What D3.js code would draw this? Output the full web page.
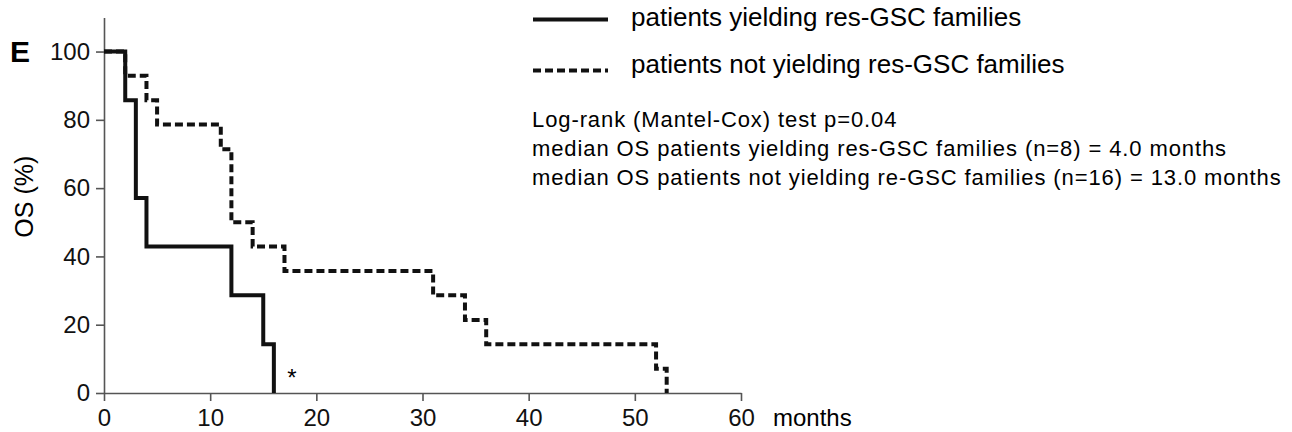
<!DOCTYPE html>
<html>
<head>
<meta charset="utf-8">
<script src="https://cdn.jsdelivr.net/npm/d3@7"></script>
<style>
  body { margin: 0; background: #fff; }
  svg { display: block; font-family: "Liberation Sans", Arial, sans-serif; }
  .axis path, .axis line { stroke: #555; stroke-width: 1.6px; }
  .axis text { font-size: 24px; fill: #111; }
  .km { fill: none; stroke: #111; stroke-width: 4px; stroke-linejoin: miter; }
  .dashed { stroke-dasharray: 8,4; }
</style>
</head>
<body>
<div class="container"></div>
<script>
const WIDTH = 1292;
const HEIGHT = 432;

// survival steps (month, % alive)
var monthsYield = [0, 2, 3, 4, 12, 15, 16];
var osYield = [100, 85.7, 57.1, 42.9, 28.6, 14.3, 0];

var monthsNotYield = [0, 2, 4, 5, 11, 12, 14, 17, 31, 34, 36, 52, 53];
var osNotYield = [100, 92.9, 85.7, 78.6, 71.4, 50, 42.9, 35.7, 28.6, 21.4, 14.3, 7.1, 0];

var xTicks = [0, 10, 20, 30, 40, 50, 60];
var yTicks = [0, 20, 40, 60, 80, 100];

var legendLabels = ['patients yielding res-GSC families', 'patients not yielding res-GSC families'];
var statLines = [
  'Log-rank (Mantel-Cox) test p=0.04',
  'median OS patients yielding res-GSC families (n=8) = 4.0 months',
  'median OS patients not yielding re-GSC families (n=16) = 13.0 months'
];
var asterisk = {month: 17.7, label: '*'};

var translate = function(x, y){
  return "translate(" + x + "," + y + ")";
};

var svg = d3.select('.container').append('svg')
  .attr('width', WIDTH)
  .attr('height', HEIGHT);

var xScale = d3.scaleLinear().domain([0, 60]).range([104, 741]);
var yScale = d3.scaleLinear().domain([0, 110]).range([393, 17.4]);

var xAxis = d3.axisBottom(xScale).tickValues(xTicks).tickSize(8).tickSizeOuter(0).tickPadding(8);
var yAxis = d3.axisLeft(yScale).tickValues(yTicks).tickSize(8).tickSizeOuter(0).tickPadding(6);

svg.append('g')
  .attr('class', 'axis')
  .attr('transform', translate(0, yScale(0)))
  .call(xAxis);

svg.append('g')
  .attr('class', 'axis')
  .attr('transform', translate(xScale(0), 0))
  .call(yAxis);

// x axis unit and y axis title
svg.append('text')
  .attr('x', 773)
  .attr('y', 426)
  .style('font-size', '24px')
  .text('months');

svg.append('text')
  .attr('transform', translate(33, yScale(57.5)) + ' rotate(-90)')
  .attr('text-anchor', 'middle')
  .style('font-size', '25px')
  .text('OS (%)');

svg.append('text')
  .attr('x', 10)
  .attr('y', 62)
  .style('font-size', '30px')
  .style('font-weight', 'bold')
  .text('E');

var line = d3.line()
  .curve(d3.curveStepAfter)
  .x(function(d){ return xScale(d[0]); })
  .y(function(d){ return yScale(d[1]); });

var notYield = monthsNotYield.map(function(m, i){ return [m, osNotYield[i]]; });
var yieldData = monthsYield.map(function(m, i){ return [m, osYield[i]]; });

svg.append('path')
  .attr('class', 'km dashed')
  .attr('d', line(notYield));

svg.append('path')
  .attr('class', 'km')
  .attr('d', line(yieldData));

svg.append('text')
  .attr('x', xScale(asterisk.month))
  .attr('y', 386)
  .attr('text-anchor', 'middle')
  .style('font-size', '24px')
  .text(asterisk.label);

// legend
var legend = svg.append('g');
var legendY = [19.5, 70.5];
legendLabels.forEach(function(label, i){
  legend.append('line')
    .attr('class', i === 0 ? 'km' : 'km dashed')
    .attr('x1', 533).attr('x2', 608)
    .attr('y1', legendY[i]).attr('y2', legendY[i]);
  legend.append('text')
    .attr('x', 631)
    .attr('y', legendY[i] + (i === 0 ? 6 : 2.5))
    .style('font-size', '26px')
    .text(label);
});

var stats = svg.append('g');
statLines.forEach(function(t, i){
  stats.append('text')
    .attr('x', 532)
    .attr('y', 126.5 + i * 29)
    .style('font-size', '22px')
    .style('letter-spacing', '0.9px')
    .text(t);
});
</script>
</body>
</html>
